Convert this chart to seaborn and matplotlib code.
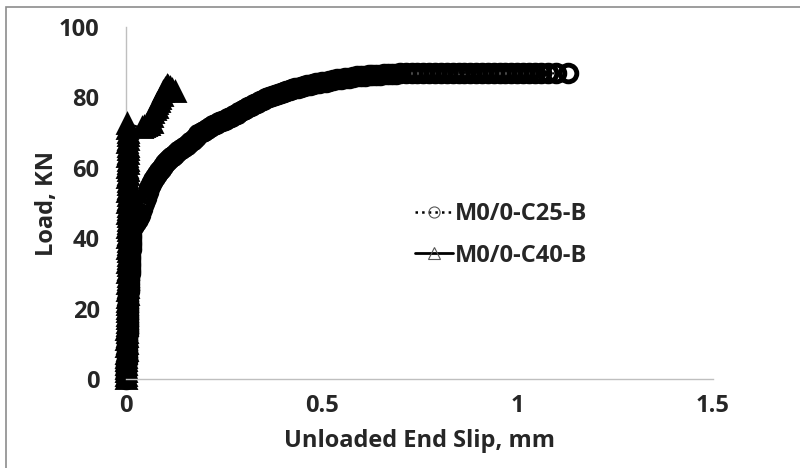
import matplotlib
matplotlib.use("Agg")
import matplotlib.pyplot as plt
import seaborn as sns
from matplotlib.lines import Line2D
from matplotlib.patches import Rectangle

# M0/0-C25-B : slip (mm) and load (kN)
c25_slip = [0.000, 0.000, 0.001, 0.001, 0.001, 0.002, 0.002, 0.002, 0.002, 0.003,
            0.003, 0.003, 0.003, 0.004, 0.004, 0.004, 0.004, 0.005, 0.005, 0.005,
            0.005, 0.006, 0.006, 0.006, 0.006, 0.007, 0.007, 0.008, 0.008, 0.008,
            0.009, 0.009, 0.010, 0.010, 0.010, 0.011, 0.011, 0.012, 0.012, 0.012,
            0.013, 0.013, 0.014,
            0.015, 0.020, 0.025, 0.030, 0.035, 0.040, 0.045, 0.050, 0.055, 0.060,
            0.065, 0.070, 0.075, 0.080, 0.085, 0.090, 0.095, 0.100, 0.105, 0.110,
            0.115, 0.120, 0.125, 0.133, 0.140, 0.148, 0.155, 0.163, 0.170, 0.178,
            0.185, 0.193, 0.200, 0.208, 0.215, 0.223, 0.230, 0.238, 0.245, 0.253,
            0.260, 0.268, 0.275, 0.283, 0.290, 0.298, 0.305, 0.313, 0.320, 0.328,
            0.335, 0.343, 0.350, 0.358, 0.365, 0.373, 0.380, 0.388, 0.395, 0.403,
            0.410, 0.418, 0.425, 0.433, 0.440, 0.448, 0.455, 0.463, 0.470, 0.478,
            0.485, 0.493, 0.500, 0.510, 0.520, 0.530, 0.540, 0.550, 0.560, 0.570,
            0.580, 0.590, 0.600, 0.610, 0.620, 0.630, 0.640, 0.650, 0.660, 0.670,
            0.680, 0.690, 0.700, 0.715, 0.730, 0.745, 0.760, 0.775, 0.790, 0.805,
            0.820, 0.835, 0.850, 0.865, 0.880, 0.895, 0.910, 0.925, 0.940, 0.955,
            0.970, 0.985, 1.000, 1.015, 1.030, 1.045, 1.060, 1.080, 1.100, 1.130]
c25_load = [0, 1, 2, 3, 4, 5, 6, 7, 8, 9,
            10, 11, 12, 13, 14, 15, 16, 17, 18, 19,
            20, 21, 22, 23, 24, 25, 26, 27, 28, 29,
            30, 31, 32, 33, 34, 35, 36, 37, 38, 39,
            40, 41, 42,
            43.0, 43.8, 44.5, 45.5, 46.5, 48.2, 50.0, 51.5, 53.0, 54.3,
            55.5, 56.5, 57.5, 58.3, 59.0, 59.8, 60.5, 61.3, 62.0, 62.5,
            63.0, 63.5, 64.0, 64.7, 65.3, 66.0, 66.6, 67.3, 68.0, 68.8,
            69.5, 70.1, 70.6, 71.1, 71.6, 72.1, 72.5, 72.9, 73.3, 73.7,
            74.1, 74.5, 74.9, 75.4, 75.8, 76.3, 76.8, 77.3, 77.7, 78.1,
            78.5, 78.9, 79.3, 79.7, 80.0, 80.4, 80.7, 81.0, 81.3, 81.6,
            81.8, 82.1, 82.3, 82.6, 82.8, 83.0, 83.2, 83.4, 83.6, 83.8,
            84.0, 84.2, 84.3, 84.5, 84.7, 84.9, 85.1, 85.3, 85.5, 85.6,
            85.8, 86.0, 86.1, 86.2, 86.3, 86.4, 86.5, 86.5, 86.6, 86.6,
            86.7, 86.7, 86.8, 86.8, 86.9, 86.9, 87.0, 87.0, 87.0, 87.0,
            87.0, 87.0, 87.0, 87.0, 87.0, 87.0, 87.0, 87.0, 87.0, 87.0,
            87.0, 87.0, 87.0, 87.0, 87.0, 86.9, 86.9, 86.9, 86.8, 86.8]

# M0/0-C40-B
c40_slip = [0.000, 0.000, 0.001, 0.000, 0.001, 0.001, 0.000, 0.001, 0.002, 0.001,
            0.002, 0.001, 0.002, 0.002, 0.001, 0.002, 0.003, 0.002, 0.003, 0.002,
            0.003, 0.003, 0.002, 0.003, 0.004, 0.003, 0.004, 0.003, 0.004, 0.004,
            0.003, 0.004, 0.004, 0.003, 0.004, 0.004, 0.004, 0.003, 0.004, 0.004,
            0.003, 0.004, 0.004, 0.003, 0.004, 0.004, 0.004, 0.003, 0.004, 0.004,
            0.003, 0.004, 0.004, 0.003, 0.004, 0.004, 0.004, 0.003, 0.004, 0.004,
            0.003, 0.004, 0.004, 0.003, 0.004, 0.004, 0.004, 0.003, 0.004, 0.004,
            0.004, 0.003, 0.003,
            0.040, 0.045, 0.050, 0.055, 0.060, 0.066, 0.062, 0.066, 0.070, 0.073,
            0.078, 0.080, 0.085, 0.088, 0.091, 0.095, 0.100, 0.104, 0.108, 0.113,
            0.118, 0.124]
c40_load = [0, 1, 2, 3, 4, 5, 6, 7, 8, 9,
            10, 11, 12, 13, 14, 15, 16, 17, 18, 19,
            20, 21, 22, 23, 24, 25, 26, 27, 28, 29,
            30, 31, 32, 33, 34, 35, 36, 37, 38, 39,
            40, 41, 42, 43, 44, 45, 46, 47, 48, 49,
            50, 51, 52, 53, 54, 55, 56, 57, 58, 59,
            60, 61, 62, 63, 64, 65, 66, 67, 68, 69,
            70, 71, 72.5,
            71.3, 71.6, 71.9, 72.2, 72.1, 72.6, 73.5, 74.5, 75.5, 76.5,
            77.0, 78.0, 78.6, 79.5, 80.4, 81.4, 82.4, 83.2, 83.0, 82.6,
            82.0, 81.4]

x_ticks = [0, 0.5, 1, 1.5]
y_ticks = [0, 20, 40, 60, 80, 100]

sns.set_style("white")
plt.rcParams['font.family'] = ['Open Sans', 'DejaVu Sans']

fig = plt.figure(figsize=(8, 4.68), dpi=100)
ax = fig.add_axes([0.1575, 0.19, 0.7335, 0.7523])

sns.lineplot(x=c25_slip, y=c25_load, sort=False, estimator=None, ax=ax,
             color="black", linestyle=":", linewidth=1.5, marker="o",
             markersize=12, fillstyle="none", markeredgecolor="black",
             markeredgewidth=3.5, clip_on=False)
sns.lineplot(x=c40_slip, y=c40_load, sort=False, estimator=None, ax=ax,
             color="black", linestyle="-", linewidth=1.8, marker="^",
             markersize=11, fillstyle="none", markeredgecolor="black",
             markeredgewidth=3.5, clip_on=False)

ax.set_xlim(0, 1.5)
ax.set_ylim(0, 100)
ax.set_xticks(x_ticks)
ax.set_xticklabels(["0", "0.5", "1", "1.5"])
ax.set_yticks(y_ticks)
ax.tick_params(axis="y", length=0, pad=19, labelsize=17)
ax.tick_params(axis="x", length=0, pad=11, labelsize=17)
for lab in ax.get_xticklabels() + ax.get_yticklabels():
    lab.set_fontweight("bold")

for s in ["top", "right"]:
    ax.spines[s].set_visible(False)
for s in ["left", "bottom"]:
    ax.spines[s].set_color("#bfbfbf")
    ax.spines[s].set_linewidth(1)
ax.spines["left"].set_zorder(0)

ax.set_xlabel("Unloaded End Slip, mm", fontsize=17, fontweight="bold", labelpad=8)
ax.set_ylabel("Load, KN", fontsize=17, fontweight="bold", labelpad=0)

handles = [
    Line2D([], [], color="black", linestyle=":", linewidth=1.8, marker="o",
           markersize=8, fillstyle="none", markeredgecolor="#555555", markeredgewidth=0.8),
    Line2D([], [], color="black", linestyle="-", linewidth=2, marker="^",
           markersize=8, fillstyle="none", markeredgecolor="#555555", markeredgewidth=0.8),
]
ax.legend(handles, ["M0/0-C25-B", "M0/0-C40-B"], frameon=False,
          loc="center left", bbox_to_anchor=(0.456, 0.41),
          prop={"weight": "bold", "size": 17}, handlelength=1.6,
          handletextpad=0.1, labelspacing=0.75)

fig.patches.append(Rectangle((6 / 800, -0.05), 1.2, 1 - 7 / 468 + 0.05,
                             transform=fig.transFigure, fill=False,
                             edgecolor="#8c8c8c", linewidth=1.2, zorder=0))

plt.savefig("out.png", dpi=100)
